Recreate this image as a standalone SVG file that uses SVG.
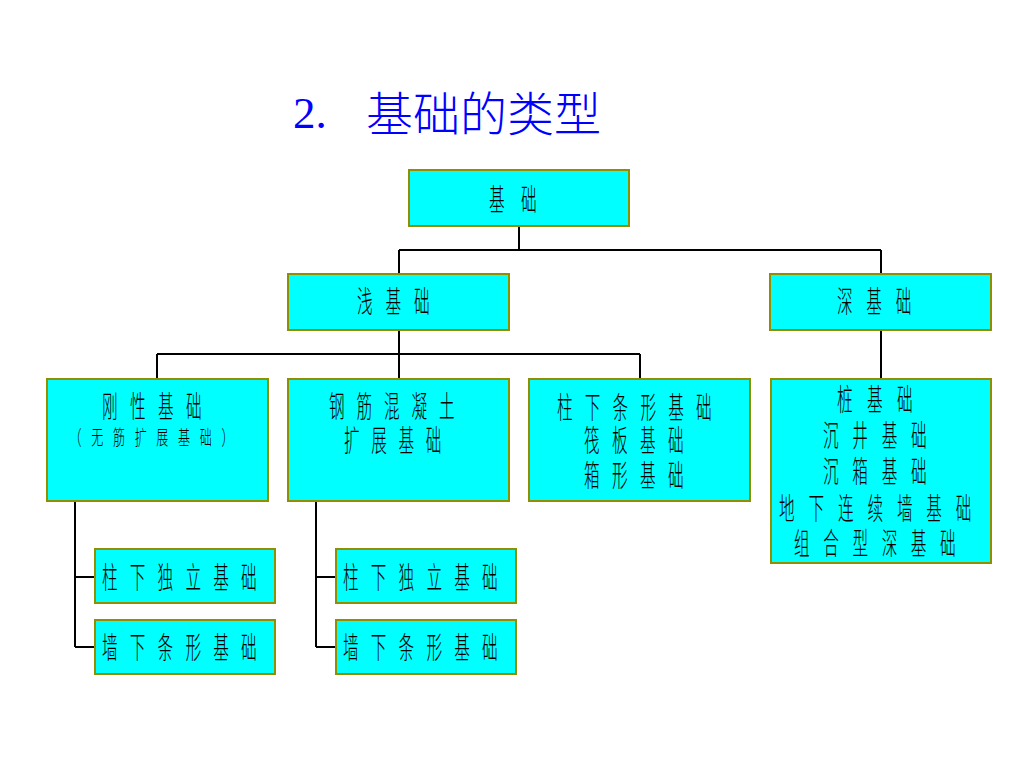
<svg xmlns="http://www.w3.org/2000/svg" width="1024" height="768" viewBox="0 0 1024 768">
<style>
.box{fill:#00FFFF;stroke:#8F8F00;stroke-width:2;shape-rendering:crispEdges}
.t{font-family:"Liberation Sans","Noto Sans CJK SC",sans-serif;font-size:30px;font-weight:300;fill:#000}
.ts{font-family:"Liberation Sans","Noto Sans CJK SC",sans-serif;font-size:20px;font-weight:300;fill:#000}
.conn{fill:none;stroke:#000;stroke-width:2;shape-rendering:crispEdges}
</style>
<rect width="1024" height="768" fill="#fff"/>
<g id="title">
<text x="293" y="128" font-family="Liberation Serif,serif" font-size="45" fill="#0000FF">2.</text>
<text x="366" y="131" font-family="Noto Sans CJK SC,sans-serif" font-size="47" font-weight="300" fill="#0000FF">基础的类型</text>
</g>
<g id="connectors" class="conn">
<path d="M519 226V250M399 250H881M399 250V274M881 250V274"/>
<path d="M399 330V354M157 354H640M157 354V379M399 354V379M640 354V379"/>
<path d="M881 330V379"/>
<path d="M75 501V647M75 577H95M75 647H95"/>
<path d="M316 501V647M316 577H336M316 647H336"/>
</g>
<g id="n-jichu"><rect class="box" x="409" y="170" width="220" height="56"/>
<text class="t" transform="translate(489,210) scale(0.52,1)" letter-spacing="31.5">基础</text></g>
<g id="n-qian"><rect class="box" x="288" y="274" width="221" height="56"/>
<text class="t" transform="translate(357,312) scale(0.52,1)" letter-spacing="24.8">浅基础</text></g>
<g id="n-shen"><rect class="box" x="770" y="274" width="221" height="56"/>
<text class="t" transform="translate(837,312) scale(0.52,1)" letter-spacing="26.5">深基础</text></g>
<g id="n-gangxing"><rect class="box" x="47" y="379" width="221" height="122"/>
<text class="t" transform="translate(102,417) scale(0.52,1)" letter-spacing="23.8">刚性基础</text>
<text class="ts" transform="translate(69.5,445) scale(0.6,1)" letter-spacing="16.2">（无筋扩展基础）</text></g>
<g id="n-gangjin"><rect class="box" x="288" y="379" width="221" height="122"/>
<text class="t" transform="translate(329,417) scale(0.52,1)" letter-spacing="22.9">钢筋混凝土</text>
<text class="t" transform="translate(344,451) scale(0.52,1)" letter-spacing="22.5">扩展基础</text></g>
<g id="n-zhuxia"><rect class="box" x="529" y="379" width="221" height="122"/>
<text class="t" transform="translate(557,418) scale(0.52,1)" letter-spacing="23.5">柱下条形基础</text>
<text class="t" transform="translate(584,451) scale(0.52,1)" letter-spacing="23.8">筏板基础</text>
<text class="t" transform="translate(584,486) scale(0.52,1)" letter-spacing="23.8">箱形基础</text></g>
<g id="n-zhuang"><rect class="box" x="771" y="379" width="220" height="184"/>
<text class="t" transform="translate(837,410) scale(0.52,1)" letter-spacing="27.7">桩基础</text>
<text class="t" transform="translate(823,446) scale(0.52,1)" letter-spacing="26.4">沉井基础</text>
<text class="t" transform="translate(823,482) scale(0.52,1)" letter-spacing="26.4">沉箱基础</text>
<text class="t" transform="translate(779,519) scale(0.52,1)" letter-spacing="26.7">地下连续墙基础</text>
<text class="t" transform="translate(794,554) scale(0.52,1)" letter-spacing="26.2">组合型深基础</text></g>
<g id="n-duli1"><rect class="box" x="95" y="549" width="180" height="54"/>
<text class="t" transform="translate(102,588) scale(0.52,1)" letter-spacing="23.5">柱下独立基础</text></g>
<g id="n-tiaoxing1"><rect class="box" x="95" y="620" width="180" height="54"/>
<text class="t" transform="translate(102,658) scale(0.52,1)" letter-spacing="23.5">墙下条形基础</text></g>
<g id="n-duli2"><rect class="box" x="336" y="549" width="180" height="54"/>
<text class="t" transform="translate(343,588) scale(0.52,1)" letter-spacing="23.5">柱下独立基础</text></g>
<g id="n-tiaoxing2"><rect class="box" x="336" y="620" width="180" height="54"/>
<text class="t" transform="translate(343,658) scale(0.52,1)" letter-spacing="23.5">墙下条形基础</text></g>
</svg>
